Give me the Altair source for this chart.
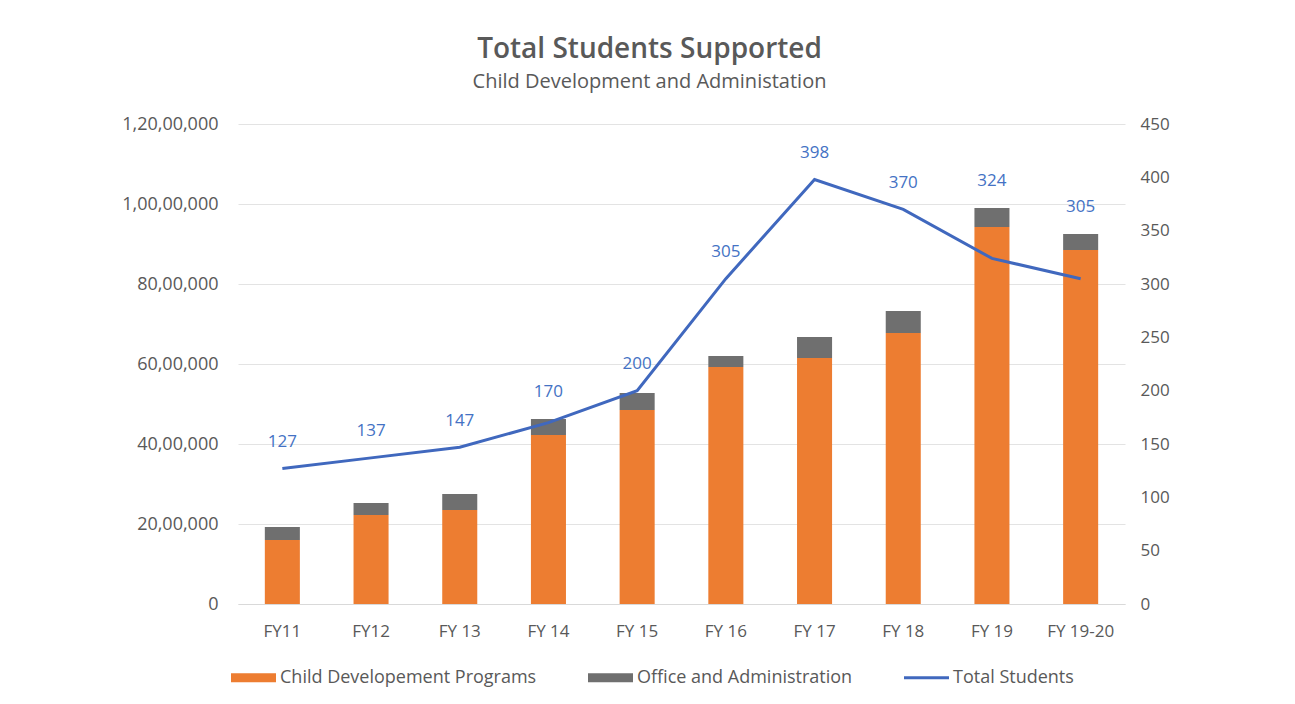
import altair as alt
import pandas as pd

categories = ["FY11", "FY12", "FY 13", "FY 14", "FY 15", "FY 16", "FY 17", "FY 18", "FY 19", "FY 19-20"]
child_dev = [1600000, 2225000, 2350000, 4225000, 4850000, 5925000, 6150000, 6775000, 9425000, 8850000]
office_admin = [325000, 300000, 400000, 400000, 425000, 275000, 525000, 550000, 475000, 400000]
students = [127, 137, 147, 170, 200, 305, 398, 370, 324, 305]

left_ticks = [0, 2000000, 4000000, 6000000, 8000000, 10000000, 12000000]
left_tick_labels = ["0", "20,00,000", "40,00,000", "60,00,000", "80,00,000", "1,00,00,000", "1,20,00,000"]
right_ticks = [0, 50, 100, 150, 200, 250, 300, 350, 400, 450]

series_names = ["Child Developement Programs", "Office and Administration", "Total Students"]
series_colors = ["#ED7D31", "#6F6F6F", "#4068BE"]
legend_shapes = ["M-1,-0.2H1V0.2H-1Z", "M-1,-0.2H1V0.2H-1Z", "M-1,-0.07H1V0.07H-1Z"]

FONT = "Open Sans"
TXT = "#595959"
LEFT_MAX = 12000000
RIGHT_MAX = 450

rows = []
for i, c in enumerate(categories):
    rows.append({"cat": c, "series": series_names[0], "value": child_dev[i], "ord": 0})
    rows.append({"cat": c, "series": series_names[1], "value": office_admin[i], "ord": 1})
bars_df = pd.DataFrame(rows)

line_df = pd.DataFrame({"cat": categories, "students": students})
totals = [a + b for a, b in zip(child_dev, office_admin)]
# label sits above whichever is higher: the line point or the bar top
line_df["label_y"] = [max(s, t * RIGHT_MAX / LEFT_MAX) + 25 for s, t in zip(students, totals)]

legend_df = pd.DataFrame({"series": series_names})

label_expr = "[" + ",".join("'" + s + "'" for s in left_tick_labels) + "][round(datum.value/2000000)]"

color_scale = alt.Scale(domain=series_names, range=series_colors)


def make_legend():
    return alt.Legend(title=None, orient="none", legendX=-7, legendY=531,
                      direction="horizontal", columns=3, columnPadding=51,
                      labelOffset=4, symbolSize=2025, symbolStrokeWidth=0, symbolOpacity=1,
                      labelFont=FONT, labelFontSize=18, labelColor=TXT, labelLimit=500,
                      padding=0)


x_enc = alt.X("cat:N", sort=categories, title=None,
              scale=alt.Scale(paddingInner=0.605, paddingOuter=0.3025),
              axis=alt.Axis(labelAngle=0, ticks=False, domain=True, domainColor="#d9d9d9",
                            labelPadding=19, labelFont=FONT, labelFontSize=17, labelColor=TXT))

bars = alt.Chart(bars_df).mark_bar().encode(
    x=x_enc,
    y=alt.Y("value:Q", stack="zero", title=None,
            scale=alt.Scale(domain=[0, LEFT_MAX], nice=False),
            axis=alt.Axis(values=left_ticks, labelExpr=label_expr, ticks=False, domain=False,
                          gridColor="#e3e3e3", labelPadding=20, labelFont=FONT, labelFontSize=18,
                          labelColor=TXT)),
    color=alt.Color("series:N", scale=color_scale, legend=make_legend()),
    order=alt.Order("ord:Q", sort="ascending"),
)

legend_pts = alt.Chart(legend_df).mark_point(filled=True, opacity=0, size=0).encode(
    x=alt.value(0),
    y=alt.value(0),
    color=alt.Color("series:N", scale=color_scale, legend=make_legend()),
    shape=alt.Shape("series:N", scale=alt.Scale(domain=series_names, range=legend_shapes),
                    legend=make_legend()),
)

y_right_scale = alt.Scale(domain=[0, RIGHT_MAX], nice=False)

line = alt.Chart(line_df).mark_line(strokeWidth=3, color="#4068BE").encode(
    x=alt.X("cat:N", sort=categories),
    y=alt.Y("students:Q", scale=y_right_scale, title=None,
            axis=alt.Axis(orient="right", values=right_ticks, ticks=False, domain=False, grid=False,
                          labelPadding=15, labelFont=FONT, labelFontSize=17, labelColor=TXT)),
)

labels = alt.Chart(line_df).mark_text(font=FONT, fontSize=17, color="#4472C4", baseline="middle").encode(
    x=alt.X("cat:N", sort=categories),
    y=alt.Y("label_y:Q", scale=y_right_scale),
    text=alt.Text("students:Q"),
)

chart = alt.layer(bars, alt.layer(line, labels), legend_pts).resolve_scale(y="independent").properties(
    width=887,
    height=480,
    autosize=alt.AutoSizeParams(type="none"),
    padding={"left": 230, "top": 116, "right": 162, "bottom": 92},
    background="white",
    title=alt.TitleParams(
        text="Total Students Supported",
        subtitle="Child Development and Administation",
        anchor="middle", dx=-32, offset=23,
        font=FONT, fontSize=28, fontWeight=600, color=TXT,
        subtitleFont=FONT, subtitleFontSize=20, subtitleColor=TXT, subtitlePadding=8,
    ),
).configure_view(stroke=None)

chart.save("out.html", embed_options={"renderer": "svg", "actions": False})
